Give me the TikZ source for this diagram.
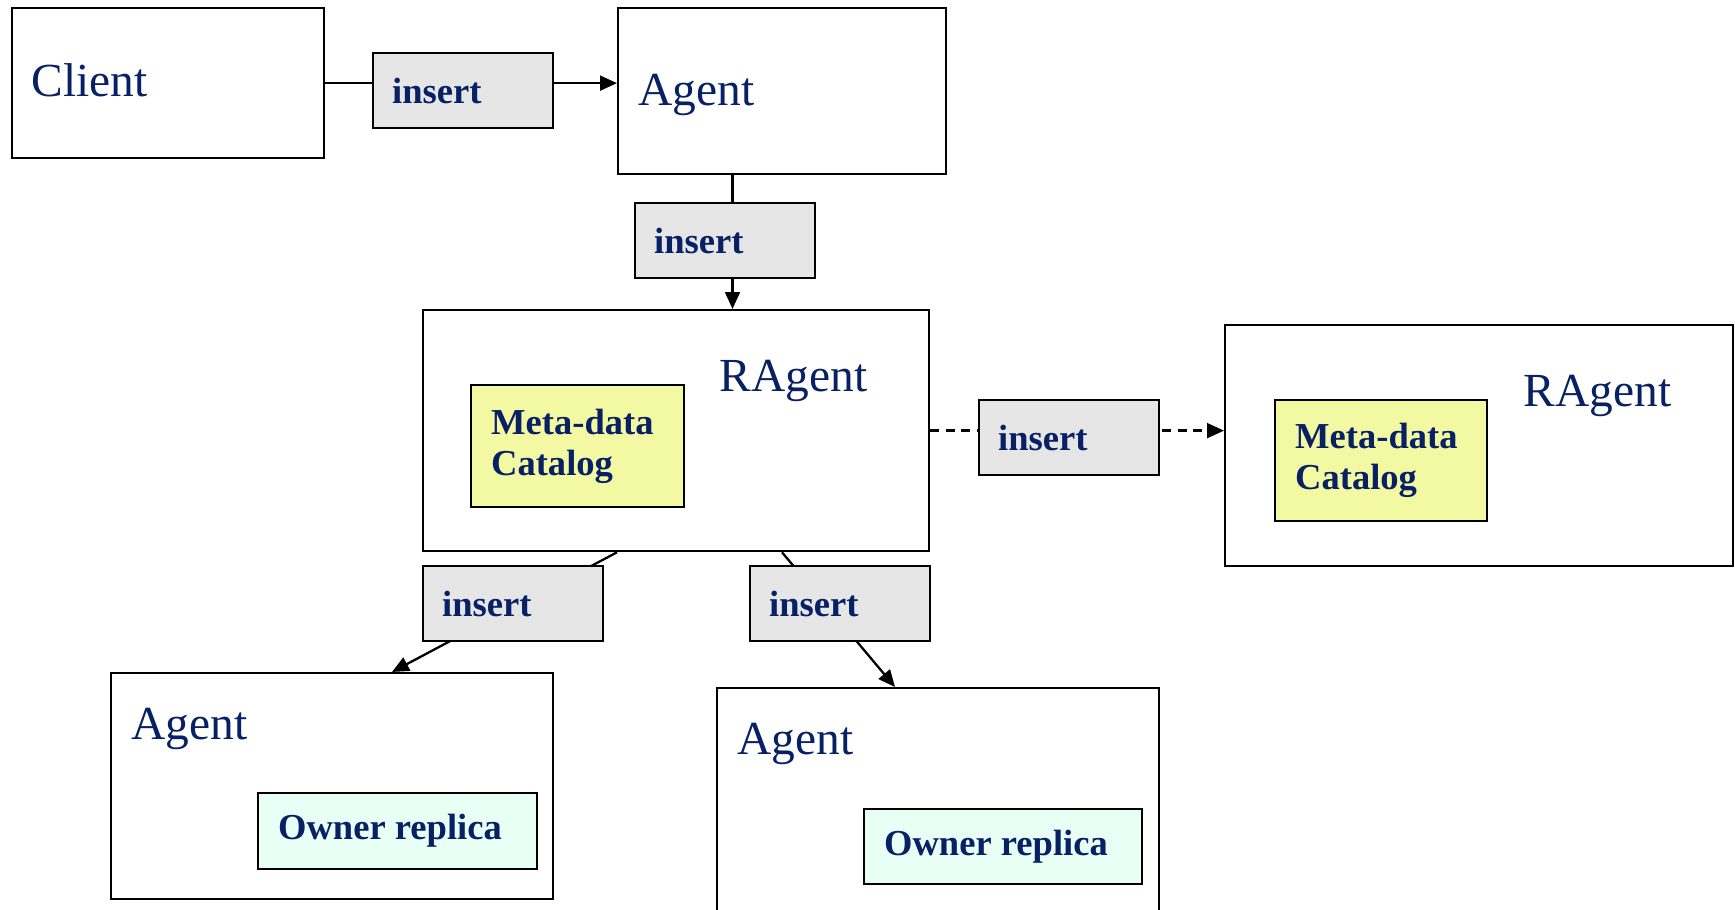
\documentclass[tikz,border=0pt]{standalone}
\usepackage{fontspec}
\setmainfont{Liberation Serif}
\usetikzlibrary{arrows.meta,calc}
\definecolor{navy}{RGB}{8,32,100}
\definecolor{insgray}{RGB}{230,230,230}
\definecolor{metayellow}{RGB}{243,249,163}
\definecolor{ownermint}{RGB}{232,255,246}
\tikzset{
  box/.style={draw, line width=0.65pt, anchor=north west, inner sep=0pt},
  title/.style={anchor=base west, inner sep=0pt, text=navy, font=\fontsize{13.5}{16}\selectfont},
  tag/.style={draw, line width=0.65pt, anchor=north west, fill=#1, text=navy, align=flush left,
    inner xsep=0.2cm, inner ysep=0pt, font=\fontsize{10.4}{11.7}\selectfont\bfseries},
  ins/.style={tag=insgray, inner xsep=0.19cm, text width=1.42cm, minimum height=0.75cm},
  arr/.style={line width=0.65pt, -{Triangle[length=4.8pt,width=4.2pt]}},
}

\begin{document}
\begin{tikzpicture}
\clip (0,0) rectangle (17.35,-9.10);

% outer boxes
\node[box, minimum width=3.12cm, minimum height=1.50cm] (client) at (0.11,-0.07) {};
\node[box, minimum width=3.28cm, minimum height=1.66cm] (agent) at (6.17,-0.07) {};
\node[box, minimum width=5.06cm, minimum height=2.41cm] (ragentA) at (4.22,-3.09) {};
\node[box, minimum width=5.08cm, minimum height=2.41cm] (ragentB) at (12.24,-3.24) {};
\node[box, minimum width=4.42cm, minimum height=2.26cm] (agentL) at (1.10,-6.72) {};
\node[box, minimum width=4.42cm, minimum height=3.00cm] (agentR) at (7.16,-6.87) {};

\node[title] (tclient) at (0.31,-0.97) {Client};
\node[title] (tagent) at (6.38,-1.06) {Agent};
\node[title] (tragentA) at (7.19,-3.92) {RAgent};
\node[title] (tragentB) at (15.23,-4.07) {RAgent};
\node[title] (tagentL) at (1.31,-7.39) {Agent};
\node[title] (tagentR) at (7.37,-7.55) {Agent};

% inner boxes
\node[tag=metayellow, text width=1.73cm, minimum height=1.22cm] (metaA) at (4.70,-3.84) {Meta-data\\Catalog};
\node[tag=metayellow, text width=1.72cm, minimum height=1.21cm] (metaB) at (12.74,-3.99) {Meta-data\\Catalog};
\node[tag=ownermint, text width=2.39cm, minimum height=0.76cm] (ownerL) at (2.57,-7.92) {Owner replica};
\node[tag=ownermint, text width=2.38cm, minimum height=0.75cm] (ownerR) at (8.63,-8.08) {Owner replica};

% connectors
\coordinate (a1) at ($(agent.south west)+(1.155,0)$);
\draw[arr] (client.east) -- (client.east -| agent.west);
\draw[arr] (a1) -- (a1 |- ragentA.north);
\draw[arr, dash pattern=on 2.6pt off 1.8pt] (ragentA.east) -- (ragentA.east -| ragentB.west);
\draw[arr] ($(ragentA.south west)+(1.95,0)$) -- ($(agentL.north west)+(2.82,0)$);
\draw[arr] ($(ragentA.south west)+(3.60,0)$) -- ($(agentR.north west)+(1.79,0)$);

% insert tags on top of the lines
\node[ins] (ins1) at (3.72,-0.52) {insert};
\node[ins] (ins2) at (6.34,-2.02) {insert};
\node[ins] (ins3) at (9.78,-3.99) {insert};
\node[ins] (ins4) at (4.22,-5.65) {insert};
\node[ins] (ins5) at (7.49,-5.65) {insert};
\end{tikzpicture}
\end{document}
